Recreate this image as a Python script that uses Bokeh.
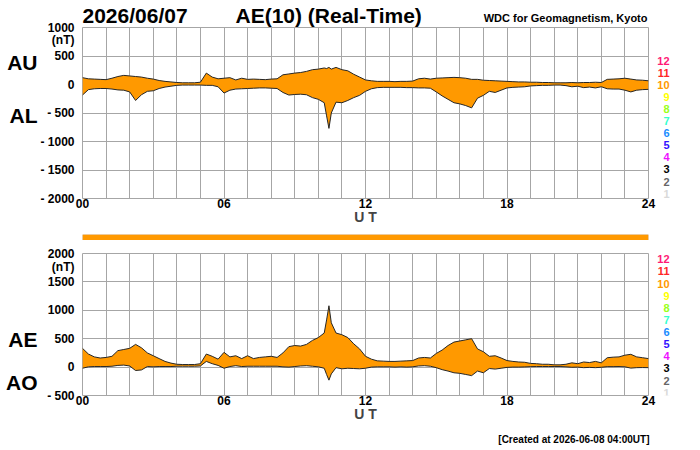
from bokeh.plotting import figure
from bokeh.models import Range1d, FixedTicker, LinearAxis, ColumnDataSource
from bokeh.layouts import column, row
from bokeh.core.properties import value
from bokeh.embed import file_html
from bokeh.resources import INLINE

# ---------------- data ----------------
date_text = "2026/06/07"
title_text = "AE(10) (Real-Time)"
source_text = "WDC for Geomagnetism, Kyoto"
created_text = "[Created at 2026-06-08 04:00UT]"

ut_hours = [0, 0.25, 0.5, 0.75, 1, 1.25, 1.5, 1.75, 2, 2.25,
            2.5, 2.75, 3, 3.25, 3.5, 3.75, 4, 4.25, 4.5, 4.75,
            5, 5.25, 5.5, 5.75, 6, 6.25, 6.5, 6.75, 7, 7.25,
            7.5, 7.75, 8, 8.25, 8.5, 8.75, 9, 9.25, 9.5, 9.75,
            10, 10.25, 10.35, 10.45, 10.55,
            10.75, 11, 11.25, 11.5, 11.75, 12, 12.25, 12.5, 12.75, 13,
            13.25, 13.5, 13.75, 14, 14.25, 14.5, 14.75, 15, 15.25, 15.5,
            15.75, 16, 16.25, 16.5, 16.75, 17, 17.25, 17.5, 17.75, 18,
            18.25, 18.5, 18.75, 19, 19.25, 19.5, 19.75, 20, 20.25, 20.5,
            20.75, 21, 21.25, 21.5, 21.75, 22, 22.25, 22.5, 22.75, 23,
            23.25, 23.5, 23.75, 24]

au = [120, 100, 95, 90, 85, 110, 140, 160, 150, 140,
      130, 110, 95, 70, 55, 45, 35, 30, 30, 30,
      40, 200, 130, 100, 110, 120, 80, 110, 90, 95,
      90, 85, 95, 100, 170, 185, 200, 210, 230, 260,
      270, 290, 280, 300, 270,
      300, 260, 240, 180, 130, 80, 65, 55, 55, 55,
      50, 55, 55, 60, 100, 110, 95, 110, 115, 120,
      125, 120, 110, 90, 90, 75, 70, 65, 60, 55,
      50, 45, 45, 40, 40, 35, 35, 30, 30, 30,
      35, 30, 35, 35, 40, 35, 90, 95, 100, 110,
      95, 80, 75, 65]

al = [-185, -90, -75, -70, -70, -80, -95, -100, -130, -280,
      -180, -120, -110, -70, -45, -30, -15, -10, -10, -10,
      -10, -15, -15, -40, -150, -100, -80, -75, -70, -65,
      -60, -60, -65, -70, -140, -185, -175, -170, -180, -230,
      -260, -320, -550, -770, -500,
      -310, -320, -280, -230, -190, -120, -75, -55, -50, -50,
      -50, -50, -55, -55, -60, -60, -65, -130, -200, -260,
      -320, -340, -370, -410, -240, -190, -120, -140, -100, -60,
      -50, -45, -40, -25, -20, -15, -15, -10, -10, -20,
      -40, -30, -55, -45, -60, -40, -75, -80, -80, -100,
      -130, -100, -90, -85]

ae = [330, 230, 180, 160, 170, 190, 290, 310, 330, 400,
      340, 250, 200, 150, 100, 70, 50, 45, 45, 45,
      60, 230, 190, 140, 260, 180, 200, 150, 200, 150,
      170, 180, 190, 170, 250, 360, 380, 370, 400, 470,
      520, 600, 830, 1080, 780,
      600, 570, 520, 410, 320, 190, 140, 110, 105, 100,
      100, 105, 110, 115, 160, 170, 160, 240, 300, 380,
      440, 460, 480, 500, 320, 270, 190, 200, 160, 115,
      100, 90, 85, 65, 60, 50, 50, 40, 40, 50,
      75, 60, 90, 80, 100, 75, 165, 175, 180, 210,
      225, 180, 165, 150]

ao = [-20, 5, 10, 10, 10, 15, 30, 35, 20, -60,
      -50, 10, 5, 10, 10, 10, 15, 15, 15, 15,
      20, 100, 60, 30, -20, 10, 25, 10, 15, 15,
      15, 15, 15, 15, 5, 0, 10, 20, 25, 15,
      5, -20, -130, -230, -120,
      -10, -30, -20, -25, -30, -20, 0, 5, 5, 5,
      0, 5, 0, 5, 20, 25, 15, -10, -45, -70,
      -100, -110, -130, -150, -70, -100, -25, -35, -20, -5,
      0, 0, 3, 8, 10, 10, 10, 10, 10, 5,
      -3, 0, -10, -5, -10, -3, 8, 8, 10, 5,
      -18, -10, -8, -10]

# station-count colour scale (12 .. 1)
station_counts = [12, 11, 10, 9, 8, 7, 6, 5, 4, 3, 2, 1]
station_colors = ["#ff1a75", "#ff2626", "#ff9900", "#ffff00", "#99ff1a", "#33ffcc",
                  "#1a8cff", "#3311ff", "#ee11ff", "#000000", "#666666", "#d9d9d9"]

# data coverage bar: start, end, number of stations
cover_start = [0]
cover_end = [24]
cover_stations = [10]

x_tick_hours = [0, 6, 12, 18, 24]
x_tick_labels = ["00", "06", "12", "18", "24"]
grid_hours = list(range(0, 25))

top_grid = [1000, 500, 0, -500, -1000, -1500, -2000]
top_ylabels = ["1000", "500", "0", "- 500", "- 1000", "- 1500", "- 2000"]
bot_grid = [2000, 1500, 1000, 500, 0, -500]
bot_ylabels = ["2000", "1500", "1000", "500", "0", "- 500"]
unit_text = "(nT)"
top_names = ["AU", "AL"]
bot_names = ["AE", "AO"]

# ---------------- styling / layout ----------------
FONT = "Liberation Sans"
FILL = "#ff9900"
EDGE = "#262626"
GRID = "#a6a6a6"

# positions of side labels, in data units of each panel
top_unit_y = 784
bot_unit_y = 1770
top_name_y = [380, -550]
bot_name_y = [486, -271]


def base_fig(width, height, **kw):
    p = figure(width=width, height=height, output_backend="svg", toolbar_location=None, **kw)
    p.outline_line_color = None
    p.background_fill_color = "white"
    p.border_fill_color = "white"
    return p


def style_axis(ax, size="12px"):
    ax.axis_line_color = None
    ax.major_tick_line_color = None
    ax.minor_tick_line_color = None
    ax.major_tick_out = 0
    ax.major_tick_in = 0
    ax.minor_tick_out = 0
    ax.major_label_text_font = FONT
    ax.major_label_text_font_style = "bold"
    ax.major_label_text_font_size = size
    ax.major_label_text_color = "black"


def data_panel(height, b_top, b_bottom, ymin, ymax, grid_vals):
    p = base_fig(581, height, x_range=Range1d(0, 24), y_range=Range1d(ymin, ymax),
                 y_axis_location=None,
                 min_border_left=7, min_border_right=8,
                 min_border_top=b_top, min_border_bottom=b_bottom)
    p.outline_line_color = GRID
    p.xaxis.ticker = FixedTicker(ticks=x_tick_hours)
    p.xaxis.major_label_overrides = dict(zip(x_tick_hours, x_tick_labels))
    style_axis(p.xaxis[0])
    p.xaxis.major_label_standoff = 0
    p.xaxis.axis_label = "U T"
    p.xaxis.axis_label_text_font = FONT
    p.xaxis.axis_label_text_font_style = "bold"
    p.xaxis.axis_label_text_font_size = "14px"
    p.xaxis.axis_label_standoff = -2
    p.xgrid.ticker = FixedTicker(ticks=grid_hours)
    p.ygrid.ticker = FixedTicker(ticks=grid_vals)
    for g in (p.xgrid[0], p.ygrid[0]):
        g.grid_line_color = GRID
        g.grid_line_width = 1
    return p


def side_axis_fig(height, b_top, b_bottom, y_range, grid_vals, grid_labels, unit_y, names, name_y, name_standoff):
    p = base_fig(75, height, x_range=Range1d(0, 1), y_range=y_range,
                 x_axis_location=None,
                 min_border_left=74, min_border_right=0,
                 min_border_top=b_top, min_border_bottom=b_bottom)
    p.grid.visible = False
    ticks = grid_vals + [unit_y]
    labels = grid_labels + [unit_text]
    p.yaxis.ticker = FixedTicker(ticks=ticks)
    p.yaxis.major_label_overrides = dict(zip(ticks, labels))
    style_axis(p.yaxis[0])
    p.yaxis.major_label_standoff = 0
    name_axis = LinearAxis(ticker=FixedTicker(ticks=name_y),
                           major_label_overrides=dict(zip(name_y, names)))
    style_axis(name_axis, "21px")
    name_axis.major_label_standoff = name_standoff
    p.add_layout(name_axis, "left")
    return p


def legend_fig(height, frame_h, first_y, step):
    # the frame of this figure is aligned with the frame of the panel next to it
    p = base_fig(44, height, x_range=Range1d(0, 44), y_range=Range1d(frame_h, 0),
                 x_axis_location=None, y_axis_location=None,
                 min_border_left=0, min_border_right=0, min_border_top=0, min_border_bottom=0)
    p.grid.visible = False
    src = ColumnDataSource(dict(x=[13] * len(station_counts),
                                y=[first_y + step * i for i in range(len(station_counts))],
                                t=[str(n) for n in station_counts],
                                c=station_colors))
    p.text("x", "y", "t", source=src, text_color="c", text_font=value(FONT),
           text_font_size="11px", text_font_style="bold", text_align="right",
           text_baseline="middle")
    return p


def text_fig(width, height):
    p = base_fig(width, height, x_range=Range1d(0, width), y_range=Range1d(height, 0),
                 x_axis_location=None, y_axis_location=None,
                 min_border_left=0, min_border_right=0, min_border_top=0, min_border_bottom=0)
    p.grid.visible = False
    return p


# ---------------- top block: AU / AL ----------------
top = data_panel(201, 0, 30, -2000, 1000, top_grid)
top.varea(x=ut_hours, y1=al, y2=au, fill_color=FILL)
top.line(ut_hours, au, line_color=EDGE, line_width=1)
top.line(ut_hours, al, line_color=EDGE, line_width=1)

top_left = side_axis_fig(228, 27, 30, top.y_range, top_grid, top_ylabels,
                         top_unit_y, top_names, top_name_y, 0)

header = text_fig(625, 27)
header.text(x=[7], y=[14.5], text=[date_text], text_font=value(FONT), text_font_size="21px",
            text_font_style="bold", text_align="left", text_baseline="middle")
header.text(x=[160], y=[14.5], text=[title_text], text_font=value(FONT), text_font_size="21px",
            text_font_style="bold", text_align="left", text_baseline="middle")
header.text(x=[572], y=[17.5], text=[source_text], text_font=value(FONT), text_font_size="11px",
            text_font_style="bold", text_align="right", text_baseline="middle")

top_legend = legend_fig(201, 171, 33.7, 12.03)

top_block = row(top_left, column(header, row(top, top_legend)))

# ---------------- coverage bar ----------------
bar = base_fig(700, 12, x_range=Range1d(0, 24), y_range=Range1d(0, 1),
               x_axis_location=None, y_axis_location=None,
               min_border_left=82, min_border_right=52, min_border_top=6, min_border_bottom=0)
bar.grid.visible = False
bar.quad(left=cover_start, right=cover_end, bottom=0, top=1,
         fill_color=[station_colors[station_counts.index(s)] for s in cover_stations],
         line_color="#b07a30", line_width=0.5)

# ---------------- bottom block: AE / AO ----------------
bot = data_panel(185, 13, 30, -500, 2000, bot_grid)
bot.varea(x=ut_hours, y1=ao, y2=ae, fill_color=FILL)
bot.line(ut_hours, ae, line_color=EDGE, line_width=1)
bot.line(ut_hours, ao, line_color=EDGE, line_width=1)

bot_left = side_axis_fig(207, 13, 52, bot.y_range, bot_grid, bot_ylabels,
                         bot_unit_y, bot_names, bot_name_y, 7)

bot_legend = legend_fig(185, 142, 5.8, 12.12)

footer = text_fig(625, 22)
footer.text(x=[574], y=[14], text=[created_text], text_font=value(FONT), text_font_size="10px",
            text_font_style="bold", text_align="right", text_baseline="middle")

bot_block = row(bot_left, column(row(bot, bot_legend), footer))

layout = column(top_block, bar, bot_block)
open("out.html", "w").write(file_html(layout, INLINE))
